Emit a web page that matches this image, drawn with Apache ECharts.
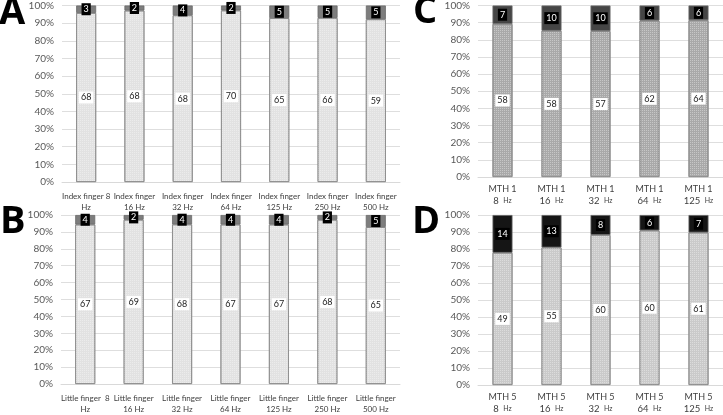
<!DOCTYPE html>
<html><head><meta charset="utf-8">
<script src="https://cdn.jsdelivr.net/npm/echarts@6/dist/echarts.min.js"></script>
<style>html,body{margin:0;padding:0;background:#fff}#c{width:723px;height:415px}</style>
</head><body><div id="c"></div>
<script>
// Panel A: index finger
const catsA = ['Index finger 8\nHz','Index finger\n16 Hz','Index finger\n32 Hz','Index finger\n64 Hz','Index finger\n125 Hz','Index finger\n250 Hz','Index finger\n500 Hz'];
const lowA = [68,68,68,70,65,66,59];
const highA = [3,2,4,2,5,5,5];
// Panel B: little finger
const catsB = ['Little finger  8\nHz','Little finger\n16 Hz','Little finger\n32 Hz','Little finger\n64 Hz','Little finger\n125 Hz','Little finger\n250 Hz','Little finger\n500 Hz'];
const lowB = [67,69,68,67,67,68,65];
const highB = [4,2,4,4,4,2,5];
// Panel C: MTH 1
const catsC = ['MTH 1\n8|Hz','MTH 1\n16|Hz','MTH 1\n32|Hz','MTH 1\n64|Hz','MTH 1\n125|Hz'];
const lowC = [58,58,57,62,64];
const highC = [7,10,10,6,6];
// Panel D: MTH 5
const catsD = ['MTH 5\n8|Hz','MTH 5\n16|Hz','MTH 5\n32|Hz','MTH 5\n64|Hz','MTH 5\n125|Hz'];
const lowD = [49,55,60,60,61];
const highD = [14,13,8,6,7];
const yTicks = 10;

const FONT = 'Lato, "Open Sans", sans-serif';
const chart = echarts.init(document.getElementById('c'), null, {renderer:'canvas'});

const grids = [
  {left:62, top:5.5, width:338, height:176.5},
  {left:61, top:215, width:339, height:176},
  {left:478, top:5.5, width:245, height:171.5},
  {left:478, top:215, width:245, height:172}
];
const panels = [
  {cats:catsA, low:lowA, high:highA, lowColor:'#e2e2e2', highColor:'#7d7d7d', mth:false},
  {cats:catsB, low:lowB, high:highB, lowColor:'#e2e2e2', highColor:'#7d7d7d', mth:false},
  {cats:catsC, low:lowC, high:highC, lowColor:'#a9a9a9', highColor:'#454545', mth:true},
  {cats:catsD, low:lowD, high:highD, lowColor:'#cacaca', highColor:'#151515', mth:true}
];

const xAxis = [], yAxis = [], series = [];
panels.forEach((p, i) => {
  xAxis.push({
    type:'category', gridIndex:i, data:p.cats,
    axisLine:{lineStyle:{color:'#d9d9d9'}}, axisTick:{show:false},
    axisLabel:{
      interval:0, color:'#404040', fontSize:p.mth ? 9 : 8, fontFamily:FONT, lineHeight:11, margin:p.mth ? 7 : 9,
      formatter: p.mth ? (v => { const s = v.split('\n'); const b = s[1].split('|'); return s[0] + '\n{n|' + b[0] + '}  {h|' + b[1] + '}'; }) : (v => v),
      rich: p.mth ? {n:{fontSize:9.5, color:'#404040', fontFamily:FONT, lineHeight:12}, h:{fontSize:7, color:'#404040', fontFamily:FONT, lineHeight:12}} : undefined
    }
  });
  yAxis.push({
    type:'value', gridIndex:i, min:0, max:100, interval:yTicks,
    axisLabel:{formatter:'{value}%', color:'#595959', fontSize:10, fontFamily:FONT, margin:8},
    axisLine:{show:false}, axisTick:{show:false},
    splitLine:{lineStyle:{color:'#dedede', width:1}}
  });
  const tot = p.low.map((v, k) => v + p.high[k]);
  series.push({
    type:'bar', xAxisIndex:i, yAxisIndex:i, stack:'s'+i, barWidth:20,
    data:p.low.map((v, k) => ({value:v / tot[k] * 100, raw:v})),
    itemStyle:{color:p.lowColor, borderColor:'#8a8a8a', borderWidth:0.8,
      decal:{symbol:'rect', symbolSize:1, dashArrayX:[1,1], dashArrayY:[1,1], color:'rgba(255,255,255,0.35)'}},
    label:{show:true, position:'inside', formatter:d => d.data.raw, color:'#222', fontSize:9, fontFamily:FONT,
      backgroundColor:'#fff', padding:[2,2,1,2]}
  });
  series.push({
    type:'bar', xAxisIndex:i, yAxisIndex:i, stack:'s'+i, barWidth:20,
    data:p.high.map((v, k) => ({value:v / tot[k] * 100, raw:v})),
    itemStyle:{color:p.highColor, borderColor:'#6a6a6a', borderWidth:0.8},
    label:{show:true, position:'inside', formatter:d => d.data.raw, color:'#fff', fontSize:9, fontFamily:FONT,
      backgroundColor:'#000', padding:[2,2,1,2]}
  });
});

const letterStyle = {fontSize:38, fontWeight:'bold', fontFamily:'"Open Sans", "Liberation Sans", sans-serif', fill:'#000'};
chart.setOption({
  animation:false,
  grid:grids,
  xAxis, yAxis, series,
  graphic:[
    {type:'text', left:-1, top:-6, style:Object.assign({text:'A'}, letterStyle)},
    {type:'text', left:0, top:203, style:Object.assign({text:'B'}, letterStyle)},
    {type:'text', left:413, top:-7, style:Object.assign({text:'C'}, letterStyle)},
    {type:'text', left:412, top:203, style:Object.assign({text:'D'}, letterStyle)}
  ]
});
</script></body></html>
